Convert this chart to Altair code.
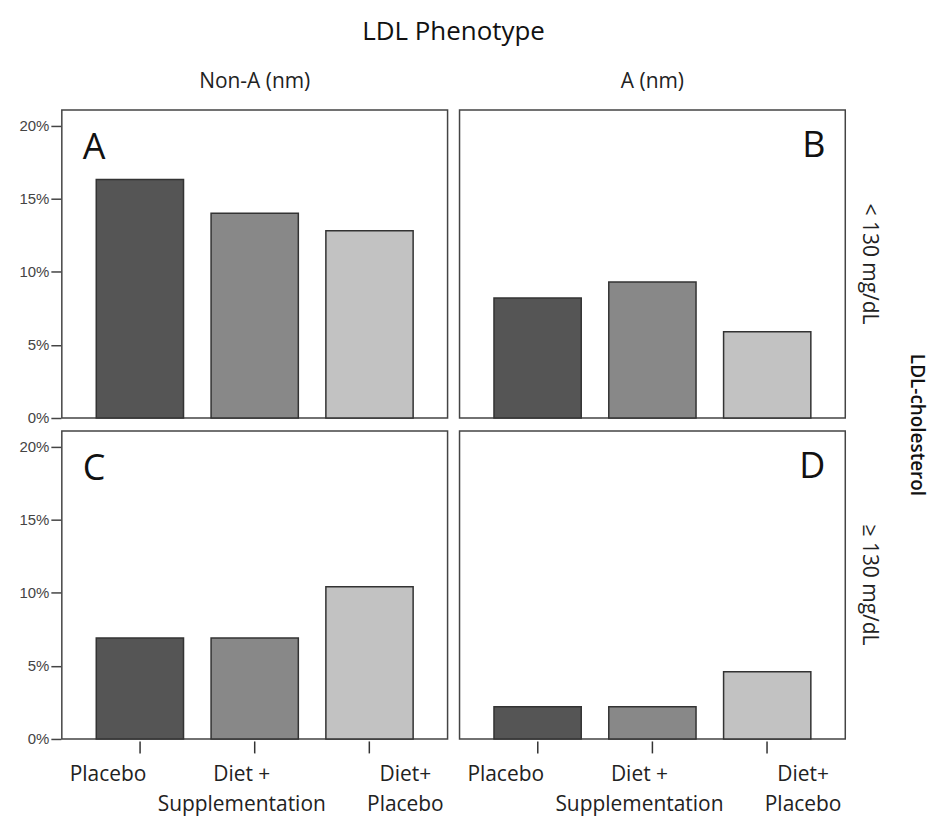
import altair as alt
import pandas as pd

row_levels = ["< 130 mg/dL", "≥ 130 mg/dL"]
col_levels = ["Non-A (nm)", "A (nm)"]
groups = ["Placebo", "Diet + Supplementation", "Diet + Placebo"]
bar_colors = ["#555555", "#888888", "#c2c2c2"]

# percentages per panel (A, B, C, D)
panel_A = [16.3, 14.0, 12.8]
panel_B = [8.2, 9.3, 5.9]
panel_C = [6.9, 6.9, 10.4]
panel_D = [2.2, 2.2, 4.6]
letters = ["A", "B", "C", "D"]
y_ticks = [0, 0.05, 0.10, 0.15, 0.20]

panels = [
    (row_levels[0], col_levels[0], panel_A, letters[0]),
    (row_levels[0], col_levels[1], panel_B, letters[1]),
    (row_levels[1], col_levels[0], panel_C, letters[2]),
    (row_levels[1], col_levels[1], panel_D, letters[3]),
]
records = []
for r, c, vals, let in panels:
    for g, v in zip(groups, vals):
        records.append({"row": r, "col": c, "group": g, "pct": v / 100.0, "letter": let})
df = pd.DataFrame(records)

W, H = 387, 309
FONT = "Open Sans"

label_expr = (
    "datum.value == 'Placebo' ? ['Placebo'] : "
    "datum.value == 'Diet + Supplementation' ? ['Diet +', 'Supplementation'] : ['Diet+', 'Placebo']"
)

base = alt.Chart()

bars = base.mark_bar(stroke="#333333", strokeWidth=1.5).encode(
    x=alt.X(
        "group:N",
        sort=groups,
        title=None,
        scale=alt.Scale(paddingInner=0.24, paddingOuter=0.3),
        axis=alt.Axis(
            labelAngle=0,
            labelExpr=label_expr,
            labelFont=FONT,
            labelFontSize=21,
            labelColor="#222222",
            labelLineHeight=30,
            labelPadding=11,
            labelOffset={
                "condition": [
                    {"test": "datum.value == 'Placebo'", "value": -32},
                    {"test": "datum.value == 'Diet + Supplementation'", "value": -13},
                ],
                "value": 36,
            },
            tickSize=12,
            tickWidth=1.5,
            tickColor="#333333",
            domain=False,
        ),
    ),
    y=alt.Y(
        "pct:Q",
        title=None,
        scale=alt.Scale(domain=[0, 0.2106], nice=False),
        axis=alt.Axis(
            values=y_ticks,
            format=".0%",
            labelFont="Liberation Sans",
            labelFontSize=15,
            labelColor="#444444",
            labelPadding=2,
            tickSize=10,
            tickWidth=1.5,
            tickColor="#444444",
            domain=False,
            grid=False,
        ),
    ),
    color=alt.Color("group:N", scale=alt.Scale(domain=groups, range=bar_colors), legend=None),
)

letters_left = base.transform_filter(
    "datum.col == 'Non-A (nm)' && datum.group == 'Placebo'"
).mark_text(align="left", baseline="alphabetic", fontSize=36, font=FONT, color="#111111").encode(
    x=alt.value(21), y=alt.value(49), text="letter:N"
)
letters_right = base.transform_filter(
    "datum.col == 'A (nm)' && datum.group == 'Placebo'"
).mark_text(align="right", baseline="alphabetic", fontSize=36, font=FONT, color="#111111").encode(
    x=alt.value(W - 20), y=alt.value(47), text="letter:N"
)

layered = alt.layer(bars, letters_left, letters_right, data=df).properties(width=W, height=H)

chart = layered.facet(
    row=alt.Row(
        "row:N",
        sort=row_levels,
        title="LDL-cholesterol",
        header=alt.Header(
            labelOrient="right",
            titleOrient="right",
            labelAngle=90,
            titleAngle=90,
            labelFont=FONT,
            labelFontSize=21,
            labelColor="#222222",
            labelPadding=13,
            titleFont=FONT,
            titleFontSize=19,
            titleFontWeight=600,
            titleColor="#111111",
            titlePadding=17,
        ),
    ),
    column=alt.Column(
        "col:N",
        sort=col_levels,
        title="LDL Phenotype",
        header=alt.Header(
            labelFont=FONT,
            labelFontSize=21,
            labelColor="#222222",
            labelPadding=17,
            titleFont=FONT,
            titleFontSize=26,
            titleFontWeight="normal",
            titleColor="#111111",
            titlePadding=16,
        ),
    ),
    spacing={"row": 10, "column": 10},
).properties(
    padding={"left": 10, "top": 10, "right": 6, "bottom": 12},
    background="white",
).configure_view(
    stroke="#444444", strokeWidth=1.5
)

chart.save("out.html", embed_options={"renderer": "svg", "actions": False})
